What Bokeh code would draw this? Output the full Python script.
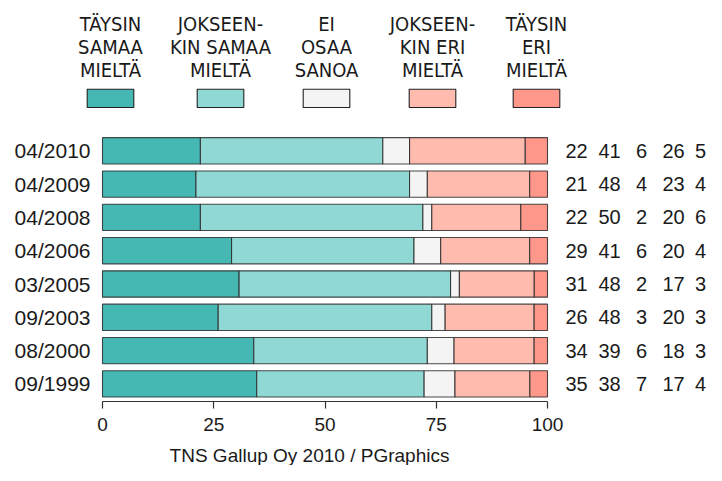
from bokeh.plotting import figure
from bokeh.models import ColumnDataSource, Range1d, LinearAxis, FixedTicker
from bokeh.core.properties import value
from bokeh.embed import file_html
from bokeh.resources import INLINE

# ---------------- data ----------------
periods = ["04/2010", "04/2009", "04/2008", "04/2006", "03/2005", "09/2003", "08/2000", "09/1999"]
taysin_samaa = [22, 21, 22, 29, 31, 26, 34, 35]
jokseenkin_samaa = [41, 48, 50, 41, 48, 48, 39, 38]
ei_osaa = [6, 4, 2, 6, 2, 3, 6, 7]
jokseenkin_eri = [26, 23, 20, 20, 17, 20, 18, 17]
taysin_eri = [5, 4, 6, 4, 3, 3, 3, 4]
categories = ["TÄYSIN\nSAMAA\nMIELTÄ", "JOKSEEN-\nKIN SAMAA\nMIELTÄ", "EI\nOSAA\nSANOA",
              "JOKSEEN-\nKIN ERI\nMIELTÄ", "TÄYSIN\nERI\nMIELTÄ"]
colors = ["#45B8B4", "#8FD8D3", "#F4F4F4", "#FFBBAE", "#FF978A"]
ticks = [0, 25, 50, 75, 100]
source_note = "TNS Gallup Oy 2010 / PGraphics"

series = [taysin_samaa, jokseenkin_samaa, ei_osaa, jokseenkin_eri, taysin_eri]

# ---------------- layout (pixels on canvas) ----------------
W, H = 706, 465
X0_PX, X100_PX = 102.0, 547.0
KX = (X100_PX - X0_PX) / 100.0
ROW0_PX, ROW_PITCH = 150.3, 33.3
BAR_H = 26.3 / ROW_PITCH


def xd(px):
    return (px - X0_PX) / KX


def yd(py):
    return (py - ROW0_PX) / ROW_PITCH


FONT = value("Liberation Sans")
NARROW = value("Liberation Sans Narrow, DejaVu Sans Condensed, sans-serif")
TXT = "#1a1a1a"

p = figure(width=W, height=H,
           x_range=Range1d(xd(0), xd(W)),
           y_range=Range1d(start=yd(H), end=yd(0)),
           toolbar_location=None, output_backend="svg",
           x_axis_type=None, y_axis_type=None,
           min_border=0, outline_line_color=None)
p.background_fill_color = "white"
p.border_fill_color = "white"

# ---------------- stacked bars (normalised to 100 %) ----------------
rows = list(range(len(periods)))
names = ["s%d" % i for i in range(len(series))]
data = {"row": rows}
for n, s in zip(names, series):
    data[n] = [100.0 * s[r] / sum(ss[r] for ss in series) for r in rows]
src = ColumnDataSource(data)
p.hbar_stack(names, y="row", height=BAR_H, fill_color=colors,
             line_color="#2a2a2a", line_alpha=0.85, line_width=1.1, source=src)

# ---------------- period labels ----------------
p.text(x=[xd(90)] * len(periods), y=rows, text=periods, text_align="right",
       text_baseline="middle", text_font=FONT,
       text_font_size="21px", text_color=TXT)

# ---------------- numbers on the right ----------------
col_px = [576, 609, 641, 673, 700]
nx, ny, nt = [], [], []
for j, s in enumerate(series):
    for r in rows:
        nx.append(xd(col_px[j]))
        ny.append(r)
        nt.append(str(s[r]))
p.text(x=nx, y=ny, text=nt, text_align="center", text_baseline="middle",
       text_font=FONT, text_font_size="20px", text_color=TXT)

# ---------------- legend ----------------
leg_px = [110, 220, 326, 432, 536]
line_mid_px = [23.5, 46.8, 69.6]
p.rect(x=[xd(c) for c in leg_px], y=[yd(97.85)] * len(leg_px),
       width=46.6, height=18.3, width_units="screen", height_units="screen",
       fill_color=colors, line_color="#222222", line_width=1.1)
lx, ly, lt = [], [], []
for c, cat in zip(leg_px, categories):
    for i, line in enumerate(cat.split("\n")):
        lx.append(xd(c))
        ly.append(yd(line_mid_px[i]))
        lt.append(line)
p.text(x=lx, y=ly, text=lt, text_align="center", text_baseline="middle",
       text_font=NARROW, text_font_size="20px", text_color=TXT)

# ---------------- x axis ----------------
ax = LinearAxis(ticker=FixedTicker(ticks=ticks), bounds=(0, 100), fixed_location=yd(401))
ax.axis_line_color = "#333333"
ax.axis_line_width = 1.2
ax.major_tick_line_color = "#333333"
ax.major_tick_line_width = 1.2
ax.major_tick_out = 7
ax.major_tick_in = 0
ax.minor_tick_out = 0
ax.minor_tick_in = 0
ax.major_label_standoff = 9
ax.major_label_text_font = "Liberation Sans"
ax.major_label_text_font_size = "19px"
ax.major_label_text_color = TXT
p.add_layout(ax, "below")

# ---------------- footer ----------------
p.text(x=[xd(309)], y=[yd(455)], text=[source_note], text_align="center",
       text_baseline="middle", text_font=FONT, text_font_size="19px",
       text_color=TXT)

open("out.html", "w").write(file_html(p, INLINE))
